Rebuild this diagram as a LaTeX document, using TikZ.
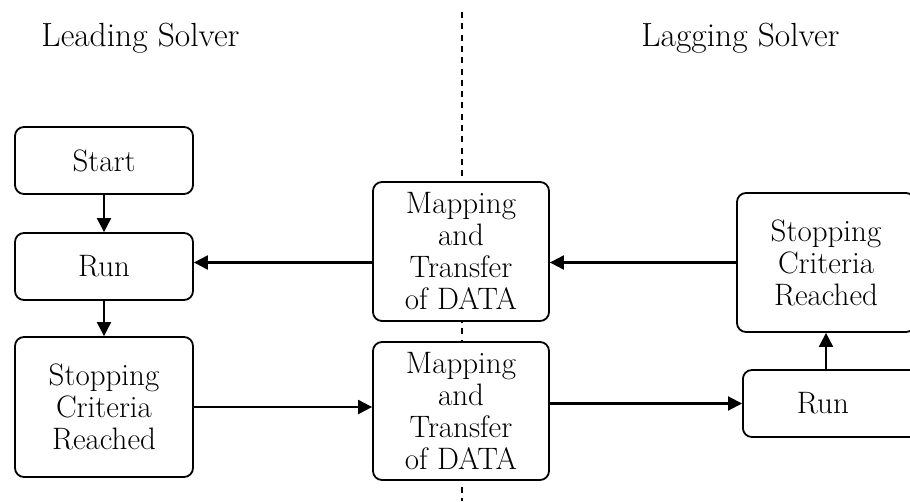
\documentclass[tikz,border=0pt]{standalone}
\usetikzlibrary{arrows.meta,backgrounds}

\tikzset{
  box/.style={draw, line width=1.8pt, rounded corners=9pt, fill=white,
    align=center, inner sep=0pt, font=\fontsize{31}{32}\selectfont},
  arr/.style={line width=2.1pt, -{Triangle[length=14pt,width=14pt]}},
  divider/.style={line width=1.9pt, dash pattern=on 6pt off 5.3pt},
  heading/.style={font=\fontsize{33.5}{36}\selectfont, anchor=base}
}

\begin{document}
\begin{tikzpicture}[x=1pt,y=-1pt]
  \useasboundingbox (0,0) rectangle (910,501);

  % column headings
  \node[heading] (lead) at (140.5,46.5) {Leading Solver};
  \node[heading] (lag) at (740.5,46.5) {Lagging Solver};

  % leading solver
  \node[box, minimum width=178pt, minimum height=67pt] (start) at (104,160.5) {Start};
  \node[box, minimum width=178pt, minimum height=67pt] (runL) at (104,266.5) {Run};
  \node[box, minimum width=178pt, minimum height=140pt] (stopL) at (104,407) {Stopping\\Criteria\\Reached};

  % data exchange
  \node[box, minimum width=176pt, minimum height=139pt] (mapU) at (461,251.5) {Mapping\\and\\Transfer\\of DATA};
  \node[box, minimum width=176pt, minimum height=138pt] (mapL) at (461,411) {Mapping\\and\\Transfer\\of DATA};

  % lagging solver (runs past the right margin)
  \node[box, minimum width=178pt, minimum height=139pt] (stopR) at (826,262.5) {Stopping\\Criteria\\Reached};
  \node[box, minimum width=190pt, minimum height=67pt, anchor=west] (runR) at (742,403.5)
    {\makebox[160pt]{Run}\hspace*{30pt}};

  % divider between the two solvers
  \coordinate (divTop) at (462,12);
  \coordinate (divBot) at (462,501);
  \begin{scope}[on background layer]
    \draw[divider] (divTop) -- (divBot);
  \end{scope}

  % flow
  \draw[arr] (start) -- (runL);
  \draw[arr] (runL) -- (stopL);
  \draw[arr] (stopR.west) -- (mapU.east |- stopR.west);
  \draw[arr] (mapU.west |- stopR.west) -- (runL.east |- stopR.west);
  \draw[arr] (stopL.east) -- (mapL.west |- stopL.east);
  \draw[arr] (mapL.east |- runR.west) -- (runR.west);
  \draw[arr] (stopR.south |- runR.north) -- (stopR.south);
\end{tikzpicture}
\end{document}
